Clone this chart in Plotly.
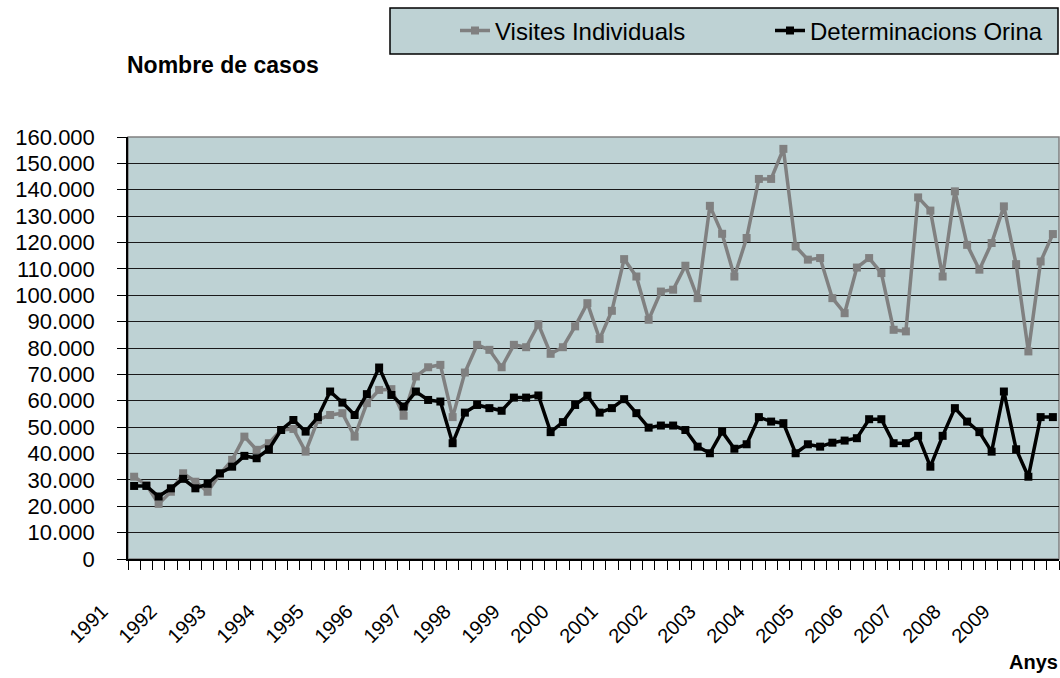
import plotly.graph_objects as go

years = list(range(1991, 2010))
quarters = [f"{y}-T{q}" for y in years for q in range(1, 5)]

visites = [31200, 28100, 20900, 25500, 32500, 29300, 25500, 32100, 37600, 46400,
           41400, 43900, 48900, 49300, 40700, 52700, 54600, 55300, 46400, 59100,
           64100, 64400, 54300, 69200, 72700, 73600, 53800, 70700, 81200, 79300,
           72700, 81200, 80300, 89000, 77800, 80300, 88200, 97000, 83400, 94100,
           113700, 107100, 90700, 101400, 102100, 111200, 98900, 133900, 123300, 107100,
           121700, 144100, 144100, 155500, 118500, 113500, 114100, 98900, 93200, 110500,
           114100, 108400, 86900, 86300, 137100, 132100, 107100, 139400, 119100, 109700,
           119800, 133700, 111800, 78700, 112800, 123200]

determinacions = [27700, 27700, 23700, 26800, 30400, 26800, 28500, 32500, 35000, 39100,
                  38200, 41600, 48900, 52700, 48300, 53800, 63500, 59300, 54600, 62500,
                  72600, 62200, 57800, 63500, 60300, 59700, 43900, 55500, 58400, 57200,
                  56200, 61200, 61200, 62000, 48100, 51900, 58400, 61900, 55500, 57200,
                  60600, 55300, 49800, 50600, 50600, 48900, 42600, 40100, 48300, 41800,
                  43500, 53800, 52100, 51500, 40100, 43500, 42600, 44100, 44900, 45800,
                  53000, 53000, 43900, 43900, 46700, 35000, 46700, 57200, 52100, 48100,
                  40700, 63500, 41600, 31200, 53800, 53800]

y_ticks = list(range(0, 160001, 10000))
year_labels = [str(y) for y in years]

xi = list(range(len(quarters)))
year_pos = [quarters.index(f"{y}-T1") for y in years]

W, H = 1060, 678
L, R, T, B = 128, 1, 137, 119
PW, PH = W - L - R, H - T - B

def px(x):
    return (x - L) / PW

def py(y):
    return (H - B - y) / PH

BG = "#bed2d4"
FONT = "Liberation Sans, Arial, sans-serif"

fig = go.Figure()
fig.add_trace(go.Scatter(
    x=xi, y=visites, name="Visites Individuals", mode="lines+markers",
    line=dict(color="#808080", width=3.5),
    marker=dict(symbol="square", size=8, color="#808080"),
    customdata=quarters, legend="legend",
))
fig.add_trace(go.Scatter(
    x=xi, y=determinacions, name="Determinacions Orina", mode="lines+markers",
    line=dict(color="#000000", width=3.5),
    marker=dict(symbol="square", size=8, color="#000000"),
    customdata=quarters, legend="legend2",
))

leg_common = dict(orientation="h", xanchor="left", yanchor="middle", y=py(31),
                  bgcolor="rgba(0,0,0,0)", borderwidth=0,
                  font=dict(size=24, family=FONT))

fig.update_layout(
    width=W, height=H,
    margin=dict(l=L, r=R, t=T, b=B, pad=0, autoexpand=False),
    paper_bgcolor="white",
    plot_bgcolor=BG,
    separators=",.",
    font=dict(family=FONT, color="black", size=20),
    showlegend=True,
    legend=dict(x=px(455), **leg_common),
    legend2=dict(x=px(770), **leg_common),
    xaxis=dict(
        range=[-0.5, len(quarters) - 0.5],
        tickmode="array", tickvals=year_pos, ticktext=year_labels,
        tickangle=-45, ticks="", showgrid=False, zeroline=False,
        tickfont=dict(size=20, family=FONT),
        ticklabelstandoff=31, ticklabelshift=-32,
        showline=True, linecolor="black", linewidth=1.5,
        minor=dict(tick0=-0.5, dtick=1, ticks="outside", ticklen=9,
                   tickcolor="black", tickwidth=1, showgrid=False),
        fixedrange=True,
    ),
    yaxis=dict(
        range=[0, 160000], tickmode="array", tickvals=y_ticks,
        tickformat=",d", ticks="outside", ticklen=9, tickcolor="black",
        ticklabelstandoff=18,
        showgrid=True, gridcolor="#1a1a1a", gridwidth=1,
        zeroline=False, showline=True, linecolor="black", linewidth=1.5,
        tickfont=dict(size=22, family=FONT),
        fixedrange=True,
    ),
    shapes=[
        dict(type="rect", xref="paper", yref="paper", x0=0, x1=1, y0=0, y1=1,
             line=dict(color="#808080", width=1.5), layer="below"),
        dict(type="rect", xref="paper", yref="paper",
             x0=px(390), x1=px(1058), y0=py(54), y1=py(8),
             line=dict(color="black", width=1.5), fillcolor=BG, layer="below"),
    ],
    annotations=[
        dict(text="<b>Nombre de casos</b>", xref="paper", yref="paper",
             x=px(125), y=py(65), xanchor="left", yanchor="middle",
             showarrow=False, font=dict(size=23, family=FONT)),
        dict(text="<b>Anys</b>", xref="paper", yref="paper",
             x=px(1060), y=py(662), xanchor="right", yanchor="middle",
             showarrow=False, font=dict(size=20, family=FONT)),
    ],
)

fig.write_html("out.html", config={"displayModeBar": False},
               post_script="document.body.style.margin='0';document.body.style.overflow='hidden';")
